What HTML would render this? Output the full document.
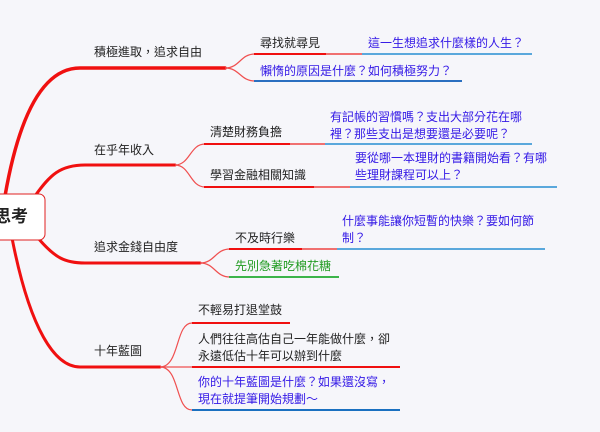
<!DOCTYPE html>
<html><head><meta charset="utf-8"><style>
html,body{margin:0;padding:0;background:#f6f6fa;}
svg{display:block;}
text{font-family:"Liberation Sans","Noto Sans CJK TC",sans-serif;font-size:12px;fill:#222;}
.b{fill:#3318e6;}
.g{fill:#1f9a1f;}
</style></head><body>
<svg width="600" height="432" viewBox="0 0 600 432" xmlns="http://www.w3.org/2000/svg">
<g fill="none" stroke="#f01010" stroke-linecap="round">
<path d="M5 196 C20 110 45 68 80 68 L225 68" stroke-width="3.5"/>
<path d="M35 196 C50 175 60 165 85 165 L175 165" stroke-width="3"/>
<path d="M38 238 C55 258 65 263 85 263 L200 263" stroke-width="3"/>
<path d="M12 238 C30 330 55 367 80 367 L160 367" stroke-width="3"/>
</g>
<g fill="none" stroke="#f05050" stroke-width="1.2">
<path d="M225 68 C240 68 240 54 255 54"/>
<path d="M225 68 C240 68 240 81 255 81"/>
<path d="M175 165 C190 165 190 144 205 144"/>
<path d="M175 165 C190 165 190 187 205 187"/>
<path d="M200 263 C215 263 215 249 230 249"/>
<path d="M200 263 C215 263 215 277 230 277"/>
<path d="M160 367 C180 367 175 323 192 323"/>
<path d="M160 367 L192 367"/>
<path d="M160 367 C180 367 175 410 192 410"/>
</g>
<g fill="none" stroke-width="2">
<line x1="254" y1="54" x2="326" y2="54" stroke="#f01010"/>
<line x1="326" y1="54" x2="362" y2="54" stroke="#f07070"/>
<line x1="362" y1="54" x2="532" y2="54" stroke="#5aa8dc"/>
<line x1="254" y1="81" x2="462" y2="81" stroke="#2a6fc0"/>
<line x1="204" y1="144" x2="290" y2="144" stroke="#f01010"/>
<line x1="290" y1="144" x2="325" y2="144" stroke="#f07070"/>
<line x1="325" y1="144" x2="532" y2="144" stroke="#5aa8dc"/>
<line x1="204" y1="187" x2="314" y2="187" stroke="#f01010"/>
<line x1="314" y1="187" x2="350" y2="187" stroke="#f07070"/>
<line x1="350" y1="187" x2="557" y2="187" stroke="#5aa8dc"/>
<line x1="229" y1="249" x2="302" y2="249" stroke="#f01010"/>
<line x1="302" y1="249" x2="337" y2="249" stroke="#f07070"/>
<line x1="337" y1="249" x2="545" y2="249" stroke="#5aa8dc"/>
<line x1="229" y1="277" x2="339" y2="277" stroke="#3cb44a"/>
<line x1="192" y1="323" x2="290" y2="323" stroke="#f01010"/>
<line x1="192" y1="367" x2="400" y2="367" stroke="#f01010"/>
<line x1="192" y1="410" x2="400" y2="410" stroke="#1a70c0"/>
</g>
<rect x="-10" y="194" width="55" height="46" rx="6" fill="#fff" stroke="#e02020" stroke-width="1"/>
<text x="-6" y="222" style="font-size:17px;font-weight:bold">思考</text>
<text x="94" y="56">積極進取，追求自由</text>
<text x="94" y="154">在乎年收入</text>
<text x="94" y="251">追求金錢自由度</text>
<text x="94" y="355">十年藍圖</text>
<text x="260" y="47">尋找就尋見</text>
<text x="368" y="47" class="b">這一生想追求什麼樣的人生？</text>
<text x="260" y="75" class="b">懶惰的原因是什麼？如何積極努力？</text>
<text x="210" y="136">清楚財務負擔</text>
<text x="330" y="121" class="b">有記帳的習慣嗎？支出大部分花在哪</text>
<text x="330" y="138" class="b">裡？那些支出是想要還是必要呢？</text>
<text x="210" y="179">學習金融相關知識</text>
<text x="355" y="162" class="b">要從哪一本理財的書籍開始看？有哪</text>
<text x="355" y="179" class="b">些理財課程可以上？</text>
<text x="235" y="242">不及時行樂</text>
<text x="342" y="225" class="b">什麼事能讓你短暫的快樂？要如何節</text>
<text x="342" y="242" class="b">制？</text>
<text x="235" y="270" class="g">先別急著吃棉花糖</text>
<text x="198" y="314">不輕易打退堂鼓</text>
<text x="198" y="343">人們往往高估自己一年能做什麼，卻</text>
<text x="198" y="360">永遠低估十年可以辦到什麼</text>
<text x="198" y="386" class="b">你的十年藍圖是什麼？如果還沒寫，</text>
<text x="198" y="403" class="b">現在就提筆開始規劃～</text>
</svg>
</body></html>
